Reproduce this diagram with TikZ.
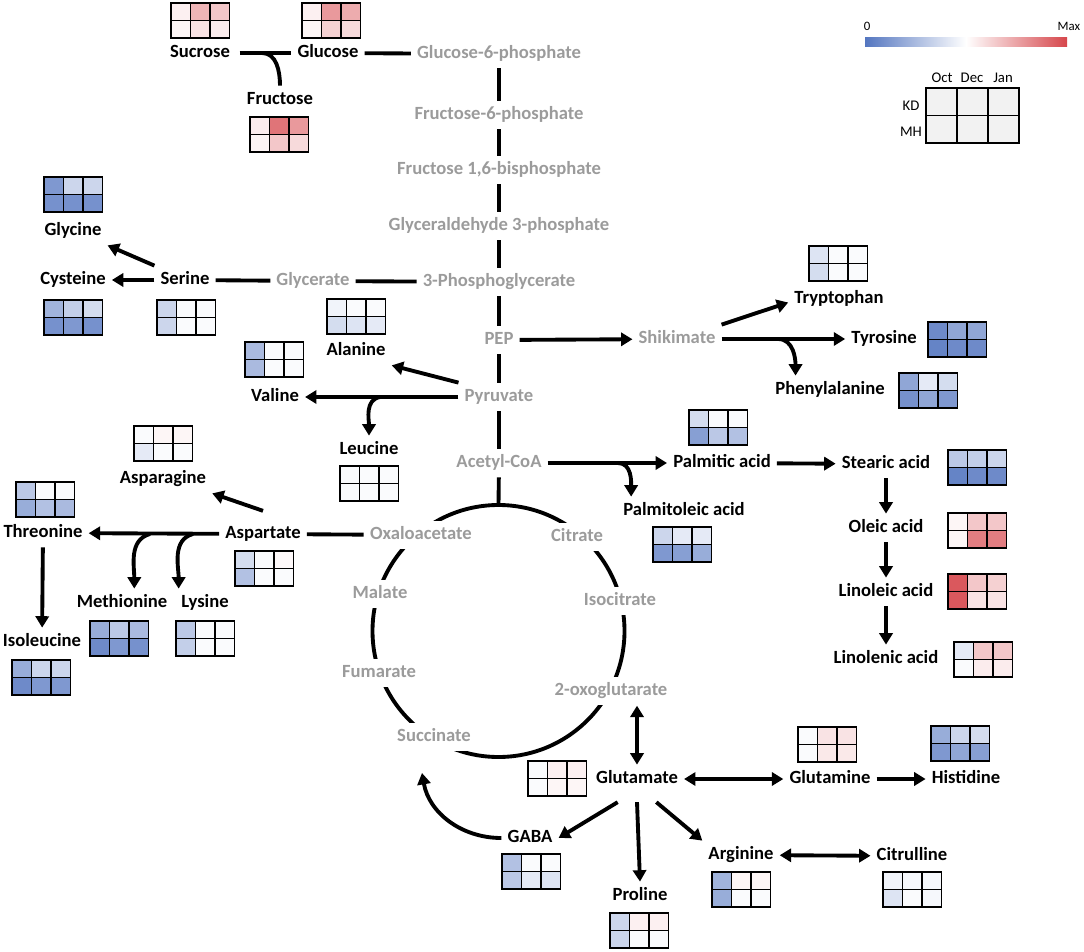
\documentclass[tikz,border=0pt]{standalone}
\usepackage{fontspec}
\setmainfont{Carlito}
\usepackage{xcolor}
\usetikzlibrary{arrows.meta}
\definecolor{hb}{RGB}{84,118,192}
\definecolor{hr}{RGB}{214,70,75}
\definecolor{mgray}{RGB}{155,155,155}
% heat map: top-left corner, then KD Oct/Dec/Jan, MH Oct/Dec/Jan
\newcommand{\hmap}[7]{%
\begin{scope}[shift={#1}]
\fill[#2](0,0)rectangle(19.5,17.5);\fill[#3](19.5,0)rectangle(39,17.5);\fill[#4](39,0)rectangle(58.5,17.5);
\fill[#5](0,17.5)rectangle(19.5,35);\fill[#6](19.5,17.5)rectangle(39,35);\fill[#7](39,17.5)rectangle(58.5,35);
\draw[hgrid](0,0)rectangle(58.5,35)(19.5,0)--(19.5,35)(39,0)--(39,35)(0,17.5)--(58.5,17.5);
\end{scope}}

\begin{document}
\begin{tikzpicture}[x=0.02cm,y=-0.02cm,
met/.style={font=\fontsize{10.6}{12}\selectfont\bfseries,text height=7.2pt,text depth=2.1pt},
mid/.style={met,text=mgray},
cyc/.style={mid,fill=white,inner sep=3.5pt},
ln/.style={line width=2.2pt},
arr/.style={ln,-{Triangle[length=6.5pt,width=7.5pt]}},
dbl/.style={ln,{Triangle[length=6.5pt,width=7.5pt]}-{Triangle[length=6.5pt,width=7.5pt]}},
hgrid/.style={line width=1pt},
leg/.style={font=\fontsize{8.4}{10}\selectfont}]
\useasboundingbox(0,0)rectangle(1084,952);
% legend
\shade[left color=hb,right color=hr,middle color=white](865,38)rectangle(1067,47);
\node[leg,font=\fontsize{7.3}{9}\selectfont] at(867,26){0};
\node[leg,font=\fontsize{7.3}{9}\selectfont] at(1069,26){Max};
\draw[hgrid,fill=gray!10](926,88)rectangle(1019,143)(957,88)--(957,143)(988,88)--(988,143)(926,115.5)--(1019,115.5);
\node[leg] at(942,78){Oct};\node[leg] at(972,78){Dec};\node[leg] at(1003,78){Jan};
\node[leg] at(911,106){KD};\node[leg] at(911,132){MH};
% heat maps
\hmap{(171,3)}{hr!8}{hr!40}{hr!30}{hr!5}{hr!15}{hr!10}
\hmap{(302,3)}{hr!8}{hr!55}{hr!45}{hr!5}{hr!25}{hr!20}
\hmap{(250,117)}{hr!10}{hr!75}{hr!55}{hr!6}{hr!30}{hr!20}
\hmap{(44,177)}{hb!75}{hb!30}{hb!30}{hb!80}{hb!80}{hb!80}
\hmap{(44,300)}{hb!55}{hb!35}{hb!25}{hb!80}{hb!75}{hb!80}
\hmap{(157,300)}{hb!30}{hb!3}{hb!3}{hb!30}{hb!3}{hb!3}
\hmap{(327,299)}{hb!8}{hb!3}{hb!3}{hb!25}{hb!20}{hb!15}
\hmap{(245,342)}{hb!50}{hb!3}{hb!3}{hb!50}{hb!3}{hb!3}
\hmap{(340,466)}{hb!3}{hb!3}{hb!3}{hb!3}{hb!3}{hb!3}
\hmap{(134,426)}{hb!3}{hr!5}{hr!5}{hb!15}{hb!3}{hb!3}
\hmap{(16,482)}{hb!40}{hb!3}{hb!3}{hb!60}{hb!45}{hb!50}
\hmap{(235,551)}{hb!25}{hb!3}{hr!3}{hb!45}{hb!3}{hb!3}
\hmap{(90,621)}{hb!60}{hb!40}{hb!50}{hb!85}{hb!75}{hb!80}
\hmap{(176,621)}{hb!40}{hb!3}{hb!3}{hb!35}{hb!3}{hb!3}
\hmap{(12,660)}{hb!60}{hb!30}{hb!30}{hb!85}{hb!75}{hb!75}
\hmap{(809,246)}{hb!20}{hb!3}{hb!3}{hb!25}{hb!3}{hb!3}
\hmap{(928,322)}{hb!85}{hb!65}{hb!65}{hb!90}{hb!85}{hb!85}
\hmap{(899,373)}{hb!65}{hb!15}{hb!25}{hb!80}{hb!65}{hb!75}
\hmap{(689,410)}{hb!25}{hb!3}{hb!3}{hb!70}{hb!40}{hb!45}
\hmap{(653,527)}{hb!30}{hb!15}{hb!15}{hb!75}{hb!70}{hb!60}
\hmap{(948,450)}{hb!40}{hb!35}{hb!30}{hb!90}{hb!85}{hb!85}
\hmap{(948,513)}{hr!5}{hr!30}{hr!30}{hr!5}{hr!70}{hr!70}
\hmap{(948,574)}{hr!90}{hr!30}{hr!25}{hr!90}{hr!15}{hr!15}
\hmap{(954,642)}{hb!15}{hr!30}{hr!30}{hb!3}{hr!10}{hr!10}
\hmap{(798,727)}{hb!3}{hr!15}{hr!15}{hb!3}{hr!12}{hr!12}
\hmap{(931,726)}{hb!60}{hb!30}{hb!25}{hb!75}{hb!65}{hb!70}
\hmap{(528,761)}{hb!3}{hr!8}{hr!8}{hb!3}{hr!5}{hr!5}
\hmap{(502,854)}{hb!45}{hb!3}{hb!3}{hb!40}{hb!15}{hb!20}
\hmap{(610,913)}{hb!30}{hr!8}{hr!8}{hb!30}{hb!3}{hb!3}
\hmap{(712,872)}{hb!55}{hr!5}{hr!5}{hb!60}{hb!3}{hb!3}
\hmap{(883,872)}{hb!8}{hb!5}{hb!5}{hb!20}{hb!3}{hb!5}
% TCA cycle
\draw[ln](498.5,631)circle[radius=126];
\coordinate(tcatop)at(498.5,505);
\node[cyc] at(421,535)(oaa){Oxaloacetate};
\node[cyc] at(577,537)(citrate){Citrate};
\node[cyc] at(380,594)(malate){Malate};
\node[cyc] at(620,601)(isocit){Isocitrate};
\node[cyc] at(379,673)(fumarate){Fumarate};
\node[cyc] at(611,691)(oxoglu){2-oxoglutarate};
\node[cyc] at(434,737)(succinate){Succinate};
% glycolysis
\node[mid] at(499,54)(g6p){Glucose-6-phosphate};
\node[mid] at(499,115)(f6p){Fructose-6-phosphate};
\node[mid] at(499,170)(fbp){Fructose 1,6-bisphosphate};
\node[mid] at(499,226)(gap){Glyceraldehyde 3-phosphate};
\node[mid] at(499,282)(pga){3-Phosphoglycerate};
\node[mid] at(499,340)(pep){PEP};
\node[mid] at(499,397)(pyr){Pyruvate};
\node[mid] at(499,463)(accoa){Acetyl-CoA};
\node[mid] at(313,281)(glycerate){Glycerate};
\node[mid] at(677,339)(shikimate){Shikimate};
% sugars
\node[met] at(200,53)(sucrose){Sucrose};
\node[met] at(328,53)(glucose){Glucose};
\node[met] at(280,100)(fructose){Fructose};
% amino acids
\node[met] at(185,280)(serine){Serine};
\node[met] at(73,231)(glycine){Glycine};
\node[met] at(73,280)(cysteine){Cysteine};
\node[met] at(356,351)(alanine){Alanine};
\node[met] at(275,397)(valine){Valine};
\node[met] at(369,450)(leucine){Leucine};
\node[met] at(263,534)(aspartate){Aspartate};
\node[met] at(163,479)(asparagine){Asparagine};
\node[met] at(43,533)(threonine){Threonine};
\node[met] at(122,603)(methionine){Methionine};
\node[met] at(205,603)(lysine){Lysine};
\node[met] at(42,642)(isoleucine){Isoleucine};
\node[met] at(839,299)(tryptophan){Tryptophan};
\node[met] at(884,339)(tyrosine){Tyrosine};
\node[met] at(830,390)(phenylalanine){Phenylalanine};
\node[met] at(637,779)(glutamate){Glutamate};
\node[met] at(830,779)(glutamine){Glutamine};
\node[met] at(966,779)(histidine){Histidine};
\node[met] at(530,838)(gaba){GABA};
\node[met] at(640,896)(proline){Proline};
\node[met] at(741,855)(arginine){Arginine};
\node[met] at(912,856)(citrulline){Citrulline};
% fatty acids
\node[met] at(722,463)(palmitic){Palmitic acid};
\node[met] at(684,511)(palmitoleic){Palmitoleic acid};
\node[met] at(886,464)(stearic){Stearic acid};
\node[met] at(886,528)(oleic){Oleic acid};
\node[met] at(886,592)(linoleic){Linoleic acid};
\node[met] at(886,659)(linolenic){Linolenic acid};
% branch points
\coordinate(frbr)at(262,53);\coordinate(leubr)at(380,397);
\coordinate(metbr)at(150,534);\coordinate(lysbr)at(193,534);
\coordinate(phebr)at(778,339);\coordinate(plbr)at(618,463);
\coordinate(tcain)at(422,773);
% connectors
\draw[ln]([xshift=2pt]sucrose.east)--(glucose);\draw[ln](glucose)--(g6p);
\draw[ln](frbr)to[out=0,in=90](fructose.north);
\draw[ln](g6p)--(f6p);\draw[ln](f6p)--(fbp);\draw[ln](fbp)--(gap);\draw[ln](gap)--(pga);
\draw[ln](pga)--(pep);\draw[ln](pep)--(pyr);\draw[ln](pyr)--(accoa);\draw[ln](accoa)--(tcatop);
\draw[ln](pga)--(glycerate);\draw[ln](glycerate)--(serine);
\draw[arr](serine)--(cysteine);\draw[arr](serine.north west)--(glycine.south east);
\draw[arr](pyr.north west)--(alanine.south east);\draw[arr](pyr)--(valine);
\draw[arr](leubr)to[out=190,in=90](leucine.north);
\draw[ln](aspartate)--(oaa);\draw[arr](aspartate)--(threonine);
\draw[arr]([yshift=5pt]aspartate.north)--(asparagine.south east);
\draw[arr](metbr)to[out=195,in=90]([xshift=7pt]methionine.north);
\draw[arr](lysbr)to[out=195,in=90]([xshift=-15pt]lysine.north);
\draw[arr](threonine)--(isoleucine);
\draw[arr](pep)--(shikimate);\draw[arr](shikimate)--(tyrosine);
\draw[arr](shikimate.north east)--([yshift=-2pt]tryptophan.west);
\draw[arr](phebr)to[out=0,in=90]([xshift=15pt]phenylalanine.north west);
\draw[arr](accoa)--(palmitic);
\draw[arr](plbr)to[out=0,in=90]([xshift=8pt]palmitoleic.north west);
\draw[arr](palmitic)--(stearic);\draw[arr](stearic)--(oleic);
\draw[arr](oleic)--(linoleic);\draw[arr](linoleic)--(linolenic);
\draw[dbl](glutamate.north|-oxoglu.south)--(glutamate.north);
\draw[dbl](glutamate)--(glutamine);\draw[arr](glutamine)--(histidine);
\draw[arr]([xshift=-11pt,yshift=-5pt]glutamate.south)--(gaba.east);
\draw[arr]([yshift=-5pt]glutamate.south)--(proline.north);
\draw[arr]([xshift=11pt,yshift=-5pt]glutamate.south)--(arginine.north west);
\draw[dbl](arginine)--(citrulline);
\draw[arr](gaba.west)to[out=180,in=-80](tcain);
\end{tikzpicture}
\end{document}
